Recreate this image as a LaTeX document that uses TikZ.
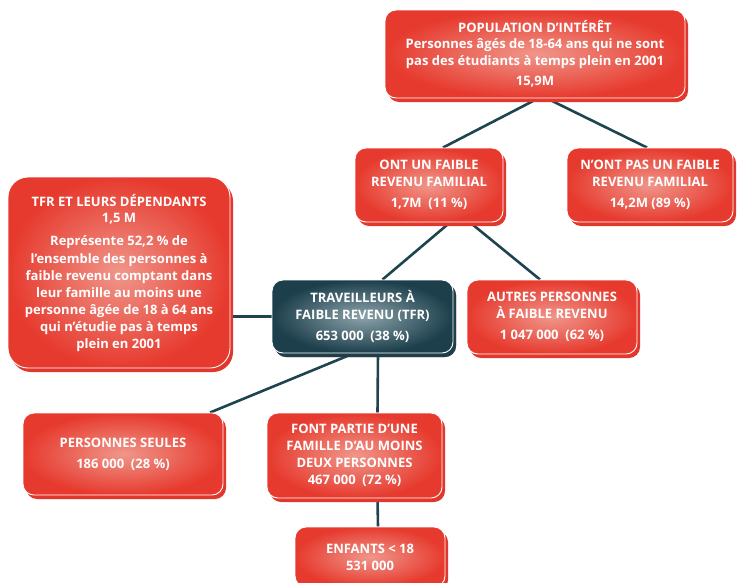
\documentclass[tikz,border=0pt]{standalone}
\usepackage{fontspec}
\setmainfont{Open Sans}
\usetikzlibrary{shadows,backgrounds}
\definecolor{boxred}{HTML}{E73A2E}
\definecolor{lightred}{HTML}{F0968A}
\definecolor{shadred}{HTML}{E2372C}
\definecolor{tealdark}{HTML}{1C3F4B}
\definecolor{teallight}{HTML}{8CA3AB}
\definecolor{linecol}{HTML}{1E4450}
\tikzset{
  box/.style={rectangle, rounded corners=11pt, draw=white, line width=0.9pt,
    shading=radial, inner color=lightred, outer color=boxred,
    text=white, align=center, font=\fontsize{13}{17}\selectfont\bfseries,
    inner sep=2pt,
    drop shadow={shadow xshift=3pt, shadow yshift=-4pt, opacity=1, fill=shadred}},
  tealbox/.style={box, inner color=teallight, outer color=tealdark,
    drop shadow={shadow xshift=3pt, shadow yshift=-4pt, opacity=1, fill=tealdark}},
  conn/.style={draw=linecol, line width=2.6pt}
}
\begin{document}
\begin{tikzpicture}[x=1pt,y=-1pt]
\useasboundingbox (0,0) rectangle (738,582);
\node[box, minimum width=300pt, minimum height=88pt] (pop) at (535,54)
  {POPULATION D’INTÉRÊT\\[-1pt]Personnes âgés de 18-64 ans qui ne sont\\pas des étudiants à temps plein en 2001\\[3pt]15,9M};
\node[box, minimum width=148pt, minimum height=74pt] (ont) at (429,185)
  {ONT UN FAIBLE\\REVENU FAMILIAL\\[4pt]1,7M~~(11 \%)};
\node[box, minimum width=166pt, minimum height=74pt] (nont) at (650,185)
  {N’ONT PAS UN FAIBLE\\REVENU FAMILIAL\\[4pt]14,2M (89 \%)};
\node[box, rounded corners=20pt, minimum width=222pt, minimum height=191pt] (tfrd) at (119,272.5)
  {TFR ET LEURS DÉPENDANTS\\1,5 M\\[6pt]Représente 52,2 \% de\\l’ensemble des personnes à\\faible revenu comptant dans\\leur famille au moins une\\personne âgée de 18 à 64 ans\\qui n’étudie pas à temps\\plein en 2001};
\node[tealbox, minimum width=181pt, minimum height=73pt] (trav) at (362.5,316.5)
  {TRAVEILLEURS À\\FAIBLE REVENU (TFR)\\[4pt]653 000~~(38 \%)};
\node[box, minimum width=170pt, minimum height=74pt] (autres) at (552,317)
  {AUTRES PERSONNES\\À FAIBLE REVENU\\[4pt]1 047 000~~(62 \%)};
\node[box, minimum width=200pt, minimum height=82pt] (seules) at (123,454)
  {PERSONNES SEULES\\[4pt]186 000~~(28 \%)};
\node[box, minimum width=175pt, minimum height=85pt] (font) at (354.5,455.5)
  {FONT PARTIE D’UNE\\FAMILLE D’AU MOINS\\DEUX PERSONNES\\467 000~~(72 \%)};
\node[box, minimum width=150pt, minimum height=60pt] (enf) at (370,557)
  {ENFANTS < 18\\531 000};
\begin{scope}[on background layer]
\draw[conn] ([xshift=3pt]pop.south) -- ([xshift=14pt]ont.north);
\draw[conn] ([xshift=12pt]pop.south) -- ([xshift=-3pt]nont.north);
\draw[conn] ([xshift=21pt]ont.south) -- ([xshift=20pt]trav.north);
\draw[conn] ([xshift=41pt]ont.south) -- ([xshift=-12pt]autres.north);
\draw[conn] (trav.west) -- (trav.west -| tfrd.east);
\draw[conn] ([xshift=-9pt]trav.south) -- ([xshift=87pt]seules.north);
\draw[conn] ([xshift=15.5pt]trav.south) -- ([xshift=23pt]font.north);
\draw[conn] ([xshift=23pt]font.south) -- ([xshift=8pt]enf.north);
\end{scope}
\end{tikzpicture}
\end{document}
